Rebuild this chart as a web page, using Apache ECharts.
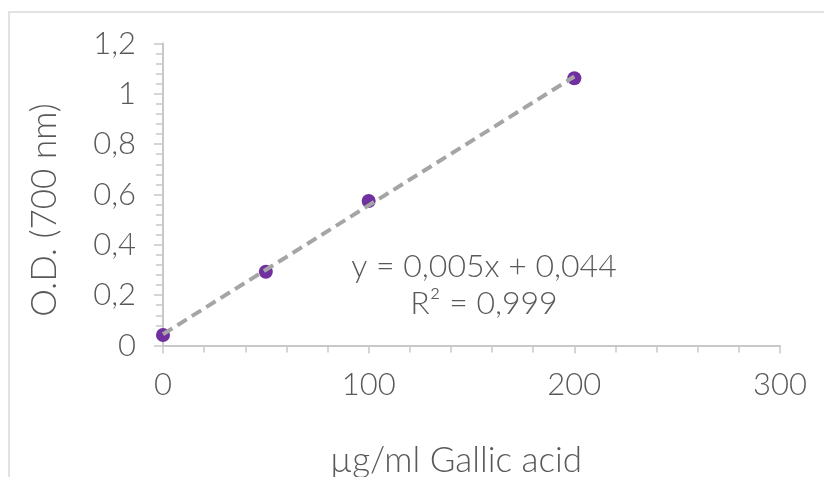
<!DOCTYPE html>
<html>
<head>
<meta charset="utf-8">
<script src="https://cdn.jsdelivr.net/npm/echarts@6/dist/echarts.min.js"></script>
<style>
  html, body { margin: 0; padding: 0; background: #fff; }
  #chart { width: 824px; height: 477px; }
</style>
</head>
<body>
<div id="chart"></div>
<script>
// standard curve data
var concentration = [0, 50, 100, 200];
var absorbance = [0.042, 0.293, 0.574, 1.062];
var xTicks = [0, 100, 200, 300];
var yTicks = [0, 0.2, 0.4, 0.6, 0.8, 1, 1.2];
var xTitle = 'µg/ml Gallic acid';
var yTitle = 'O.D. (700 nm)';
var equationText = 'y = 0,005x + 0,044';
var r2Text = 'R² = 0,999';

// least squares fit for the trendline
function linearFit(xs, ys) {
	var n = xs.length, sx = 0, sy = 0, sxx = 0, sxy = 0;
	for (var i = 0; i < n; i++) {
		sx += xs[i]; sy += ys[i];
		sxx += xs[i] * xs[i]; sxy += xs[i] * ys[i];
	}
	var slope = (n * sxy - sx * sy) / (n * sxx - sx * sx);
	return { slope: slope, intercept: (sy - slope * sx) / n };
}
var fit = linearFit(concentration, absorbance);
var xFirst = concentration[0], xLast = concentration[concentration.length - 1];
var trend = [
	[xFirst, fit.intercept + fit.slope * xFirst],
	[xLast, fit.intercept + fit.slope * xLast]
];

var points = concentration.map(function(x, i) { return [x, absorbance[i]]; });

var textColor = '#595959';
var axisColor = '#c8c8c8';
var font = 'Lato, "Open Sans", sans-serif';

var myChart = echarts.init(document.getElementById('chart'));
var option = {
	animation: false,
	textStyle: { fontFamily: font, fontWeight: 300 },
	grid: { left: 163, right: 44, top: 43.5, bottom: 131.5, outerBoundsMode: 'none', containLabel: false },
	graphic: [
		{
			type: 'rect', silent: true,
			shape: { x: 9, y: 12, width: 900, height: 600 },
			style: { fill: 'none', stroke: '#d9d9d9', lineWidth: 1.5 }
		},
		{
			type: 'text', x: 484, y: 285,
			style: {
				text: equationText + '\n' + r2Text, fill: textColor,
				font: '300 32px ' + font, align: 'center', verticalAlign: 'middle',
				lineHeight: 37
			}
		},
		{
			// axis titles
			type: 'text', x: 456, y: 461,
			style: {
				text: xTitle, fill: textColor, font: '300 35px ' + font,
				align: 'center', verticalAlign: 'middle'
			}
		},
		{
			type: 'text', x: 45, y: 210, rotation: Math.PI / 2,
			style: {
				text: yTitle, fill: textColor, font: '300 35px ' + font,
				align: 'center', verticalAlign: 'middle'
			}
		}
	],
	xAxis: {
		type: 'value', min: 0, max: 300, interval: 100,
		axisLine: { show: true, lineStyle: { color: axisColor, width: 2 } },
		axisTick: { show: true, length: 8, lineStyle: { color: axisColor, width: 1.5 } },
		minorTick: { show: true, splitNumber: 5, length: 7, lineStyle: { color: axisColor, width: 1.5 } },
		splitLine: { show: false },
		axisLabel: { color: textColor, fontSize: 31, margin: 24, fontFamily: font, fontWeight: 300 }
	},
	yAxis: {
		type: 'value', min: 0, max: 1.2, interval: 0.2,
		axisLine: { show: true, lineStyle: { color: axisColor, width: 2 } },
		axisTick: { show: true, length: 9, lineStyle: { color: axisColor, width: 1.5 } },
		minorTick: { show: true, splitNumber: 5, length: 7, lineStyle: { color: axisColor, width: 1.5 } },
		splitLine: { show: false },
		axisLabel: {
			color: textColor, fontSize: 31, margin: 27, fontFamily: font, fontWeight: 300,
			formatter: function(v) { return String(Math.round(v * 10) / 10).replace('.', ','); }
		}
	},
	series: [
		{
			type: 'scatter', data: points, symbol: 'circle', symbolSize: 14,
			itemStyle: { color: '#7030A0', opacity: 1 }, z: 2
		},
		{
			type: 'line', data: trend, showSymbol: false, symbol: 'none',
			lineStyle: { color: '#a5a5a5', width: 4, type: [11, 6] }, z: 3
		}
	]
};
if (option && typeof option === "object") {
	myChart.setOption(option, true);
}
</script>
</body>
</html>
